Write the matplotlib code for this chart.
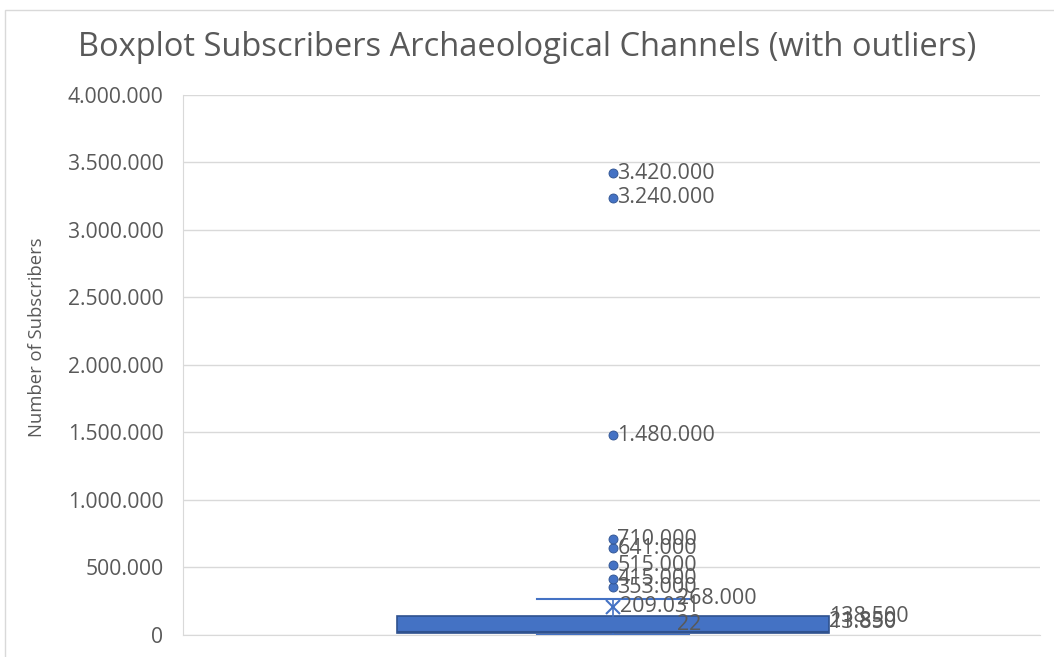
import matplotlib
matplotlib.use("Agg")
import matplotlib.pyplot as plt
from matplotlib.ticker import FuncFormatter
from matplotlib.patches import Rectangle

# ---- data ----
title = "Boxplot Subscribers Archaeological Channels (with outliers)"
ylabel = "Number of Subscribers"
whisker_low = 22
q1 = 13850
median = 21850
q3 = 138500
whisker_high = 268000
mean = 209031
outliers = [353000, 415000, 515000, 641000, 710000, 1480000, 3240000, 3420000]
yticks = [0, 500000, 1000000, 1500000, 2000000, 2500000, 3000000, 3500000, 4000000]

def fmt(v):
    return f"{int(round(v)):,}".replace(",", ".")

plt.rcParams['font.family'] = ['Open Sans', 'DejaVu Sans']
TXT = "#595959"
BLUE = "#4472c4"
DARK = "#2f528f"

fig = plt.figure(figsize=(10.54, 6.57), dpi=100)
fig.patches.append(Rectangle((0.005, -0.01), 1.2, 0.995, transform=fig.transFigure,
                             fill=False, edgecolor="#d9d9d9", linewidth=1))
ax = fig.add_axes([0.1736, 0.0335, 0.813, 0.822])

pos = 0.502
stats = [dict(med=median, q1=q1, q3=q3, whislo=whisker_low, whishi=whisker_high,
              mean=mean, fliers=outliers)]
ax.bxp(stats, positions=[pos], widths=[0.504], patch_artist=True, showmeans=True,
       showcaps=True, capwidths=[0.178],
       boxprops=dict(facecolor=BLUE, edgecolor=DARK, linewidth=1.2),
       medianprops=dict(color=DARK, linewidth=1.5),
       whiskerprops=dict(color=BLUE, linewidth=1.2),
       capprops=dict(color=BLUE, linewidth=1.5),
       meanprops=dict(marker="x", markeredgecolor=BLUE, markersize=10, markeredgewidth=1.5),
       flierprops=dict(marker="o", markerfacecolor=BLUE, markeredgecolor=DARK,
                       markersize=6.5, markeredgewidth=0.6),
       zorder=3)

fs = 15.5
for v in outliers:
    ax.text(pos + 0.005, v, fmt(v), va="center", ha="left", fontsize=fs, color=TXT, zorder=5)
ax.text(pos + 0.008, mean, fmt(mean), va="center", ha="left", fontsize=fs, color=TXT, zorder=5)
ax.text(pos + 0.075, whisker_high, fmt(whisker_high), va="center", ha="left", fontsize=fs, color=TXT, zorder=5)
ax.text(pos + 0.075, whisker_low, fmt(whisker_low), va="bottom", ha="left", fontsize=fs, color=TXT, zorder=5)
ax.text(pos + 0.252, q3, fmt(q3), va="center", ha="left", fontsize=fs, color=TXT, zorder=5)
ax.text(pos + 0.252, q1, fmt(q1), va="bottom", ha="left", fontsize=fs, color=TXT, zorder=5)
ax.text(pos + 0.252, median, fmt(median), va="bottom", ha="left", fontsize=fs, color=TXT, zorder=5)

ax.set_xlim(0, 1)
ax.set_ylim(0, 4000000)
ax.set_yticks(yticks)
ax.yaxis.set_major_formatter(FuncFormatter(lambda v, p: fmt(v)))
ax.set_xticks([])
ax.tick_params(axis="y", length=0, labelsize=15.2, labelcolor=TXT, pad=14)
ax.grid(axis="y", color="#d9d9d9", linewidth=1, zorder=0)
ax.set_axisbelow(True)
for s in ["top", "right"]:
    ax.spines[s].set_visible(False)
ax.spines["left"].set_color("#d9d9d9")
ax.spines["bottom"].set_color("#d9d9d9")
ax.set_ylabel(ylabel, fontsize=13.3, color=TXT)
ax.yaxis.set_label_coords(-0.16, 0.552)
fig.text(0.5, 0.927, title, ha="center", va="center", fontsize=23.5, color=TXT)

fig.savefig("out.png", dpi=100)
